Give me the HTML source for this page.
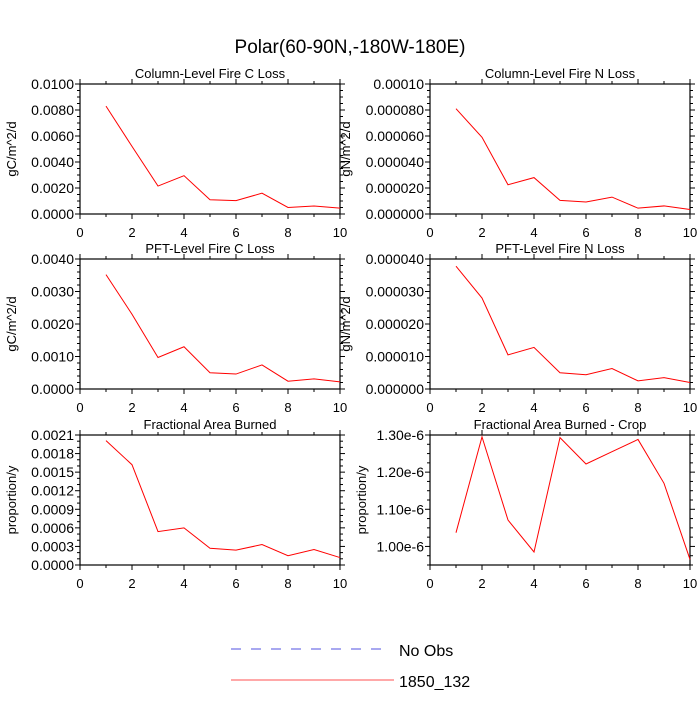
<!DOCTYPE html>
<html><head><meta charset="utf-8"><style>
body{margin:0;background:#fff;}
svg text{font-family:"Liberation Sans",sans-serif;fill:#000;}
</style></head><body>
<svg id="chart" width="700" height="700" xmlns="http://www.w3.org/2000/svg">
<text x="350" y="53" font-size="19" text-anchor="middle">Polar(60-90N,-180W-180E)</text>
<g>
<line x1="231" y1="649" x2="390" y2="649" stroke="#5050e0" stroke-width="1" stroke-dasharray="10,10"/>
<text x="399" y="656" font-size="16">No Obs</text>
<line x1="231" y1="680" x2="394" y2="680" stroke="#ff5050" stroke-width="1"/>
<text x="399" y="687" font-size="16">1850_132</text>
</g>
</svg>
<script>
const xValues=[1,2,3,4,5,6,7,8,9,10];
const xTicks=[0,2,4,6,8,10];
const colCLoss=[0.0083,0.0052,0.00215,0.00295,0.0011,0.00103,0.0016,0.0005,0.00062,0.00045];
const colNLoss=[8.1e-5,5.9e-5,2.25e-5,2.8e-5,1.05e-5,0.92e-5,1.3e-5,0.45e-5,0.62e-5,0.35e-5];
const pftCLoss=[0.00352,0.0023,0.00097,0.0013,0.0005,0.00046,0.00074,0.00024,0.00031,0.00022];
const pftNLoss=[3.78e-5,2.8e-5,1.05e-5,1.28e-5,0.5e-5,0.44e-5,0.63e-5,0.25e-5,0.35e-5,0.2e-5];
const fracBurned=[0.00201,0.00162,0.00054,0.0006,0.00027,0.00024,0.00033,0.00015,0.00025,0.00012];
const fracCrop=[1.037e-6,1.295e-6,1.071e-6,0.985e-6,1.293e-6,1.222e-6,1.255e-6,1.288e-6,1.17e-6,0.965e-6];
const ticksColC=["0.0000","0.0020","0.0040","0.0060","0.0080","0.0100"];
const ticksColN=["0.000000","0.000020","0.000040","0.000060","0.000080","0.00010"];
const ticksPftC=["0.0000","0.0010","0.0020","0.0030","0.0040"];
const ticksPftN=["0.000000","0.000010","0.000020","0.000030","0.000040"];
const ticksFrac=["0.0000","0.0003","0.0006","0.0009","0.0012","0.0015","0.0018","0.0021"];
const ticksCrop=["1.00e-6","1.10e-6","1.20e-6","1.30e-6"];

const NS="http://www.w3.org/2000/svg";
const svg=document.getElementById('chart');
function mk(tag,attrs,parent){const e=document.createElementNS(NS,tag);for(const k in attrs)e.setAttribute(k,attrs[k]);(parent||svg).appendChild(e);return e;}

function panel(o){
  const g=mk('g',{});
  
  
  const L=o.x0,R=o.x0+260,T=o.y0,B=o.y0+130;
  const xs=v=>L+(v-0)/10*(R-L);
  const ys=v=>B-(v-o.ymin)/(o.ymax-o.ymin)*(B-T);
  const fr=mk('rect',{x:L,y:T,width:R-L,height:B-T,fill:'none',stroke:'#000','stroke-width':1.2},g);
  
  
  for(let v=0;v<=10;v+=1){
    const major=(v%2===0);const len=major?5:3;
    mk('line',{x1:xs(v),y1:B,x2:xs(v),y2:B+len,stroke:'#000'},g);
    mk('line',{x1:xs(v),y1:T,x2:xs(v),y2:T-len,stroke:'#000'},g);
  }
  xTicks.forEach(v=>{const t=mk('text',{x:xs(v),y:B+23,'font-size':13,'text-anchor':'middle'},g);t.textContent=v;
    });
  for(let v=o.ymin;v<=o.ymax+1e-12;v+=o.minor){
    const isMaj=o.ticks.some(s=>Math.abs(parseFloat(s)-v)<o.minor*0.01);
    const len=isMaj?5:3;
    mk('line',{x1:L,y1:ys(v),x2:L-len,y2:ys(v),stroke:'#000'},g);
    mk('line',{x1:R,y1:ys(v),x2:R+len,y2:ys(v),stroke:'#000'},g);
  }
  o.ticks.forEach(s=>{const t=mk('text',{x:L-6,y:ys(parseFloat(s))+5,'font-size':14,'text-anchor':'end'},g);t.textContent=s;
    });
  const tt=mk('text',{x:(L+R)/2,y:T-6,'font-size':13,'text-anchor':'middle'},g);tt.textContent=o.title;
  
  const yl=mk('text',{x:0,y:0,'font-size':13,'text-anchor':'middle',transform:`translate(${L-o.ylOff},${(T+B)/2}) rotate(-90)`},g);yl.textContent=o.ylabel;
  
  const pts=xValues.map((x,i)=>xs(x)+','+ys(o.data[i])).join(' ');
  const pl=mk('polyline',{points:pts,fill:'none',stroke:'#ff0000','stroke-width':1},g);
  
  
}
panel({name:'panel-column-c-loss',x0:80,y0:84,ymin:0,ymax:0.01,minor:0.0005,ticks:ticksColC,data:colCLoss,title:'Column-Level Fire C Loss',ylabel:'gC/m^2/d',ylOff:64});
panel({name:'panel-column-n-loss',x0:430,y0:84,ymin:0,ymax:1e-4,minor:0.5e-5,ticks:ticksColN,data:colNLoss,title:'Column-Level Fire N Loss',ylabel:'gN/m^2/d',ylOff:80});
panel({name:'panel-pft-c-loss',x0:80,y0:259,ymin:0,ymax:0.004,minor:0.0002,ticks:ticksPftC,data:pftCLoss,title:'PFT-Level Fire C Loss',ylabel:'gC/m^2/d',ylOff:64});
panel({name:'panel-pft-n-loss',x0:430,y0:259,ymin:0,ymax:4e-5,minor:0.2e-5,ticks:ticksPftN,data:pftNLoss,title:'PFT-Level Fire N Loss',ylabel:'gN/m^2/d',ylOff:80});
panel({name:'panel-frac-burned',x0:80,y0:435,ymin:0,ymax:0.0021,minor:0.0001,ticks:ticksFrac,data:fracBurned,title:'Fractional Area Burned',ylabel:'proportion/y',ylOff:64});
panel({name:'panel-frac-burned-crop',x0:430,y0:435,ymin:0.95e-6,ymax:1.30e-6,minor:0.025e-6,ticks:ticksCrop,data:fracCrop,title:'Fractional Area Burned - Crop',ylabel:'proportion/y',ylOff:64});
</script>
</body></html>
